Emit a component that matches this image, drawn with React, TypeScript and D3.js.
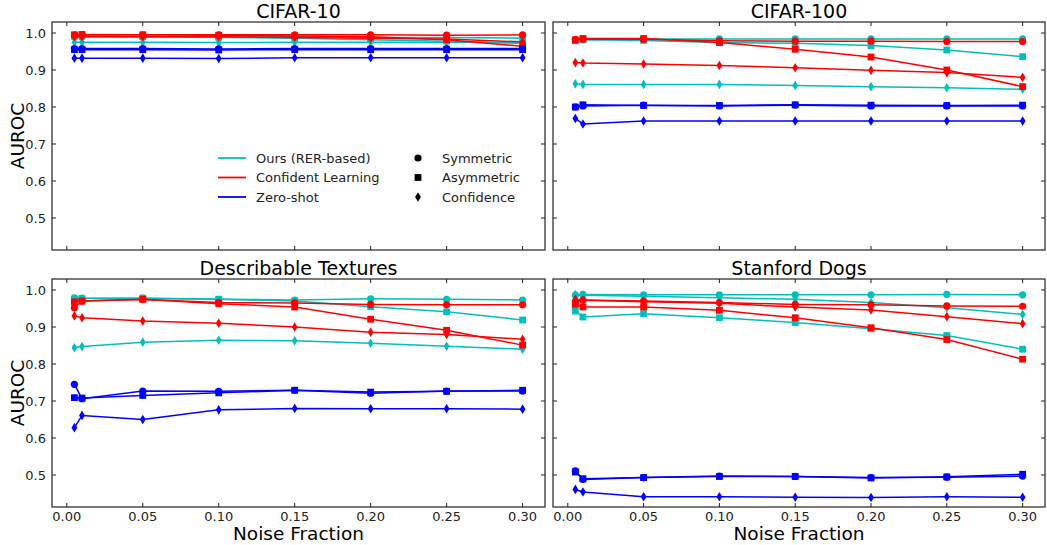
import React, { useEffect, useRef } from 'react';
import * as d3 from 'd3';

// noise fractions on the x axis
const noiseFractions = [0.005, 0.01, 0.05, 0.1, 0.15, 0.2, 0.25, 0.3];
const xTicks = [0, 0.05, 0.1, 0.15, 0.2, 0.25, 0.3];
const yTicks = [0.5, 0.6, 0.7, 0.8, 0.9, 1.0];

const methods = ['Ours (RER-based)', 'Confident Learning', 'Zero-shot'];
const methodColors = ['#00bfbf', '#ff0000', '#0000ff'];
const noiseTypes = ['Symmetric', 'Asymmetric', 'Confidence'];

// CIFAR-10 [method][noiseType]
const cifar10 = [
  [
    [0.99, 0.99, 0.99, 0.99, 0.99, 0.988, 0.988, 0.986],
    [0.992, 0.992, 0.99, 0.988, 0.986, 0.982, 0.978, 0.972],
    [0.975, 0.975, 0.975, 0.974, 0.975, 0.975, 0.975, 0.974],
  ],
  [
    [0.995, 0.995, 0.995, 0.995, 0.995, 0.995, 0.994, 0.995],
    [0.995, 0.996, 0.995, 0.994, 0.992, 0.99, 0.982, 0.964],
    [0.99, 0.99, 0.99, 0.99, 0.988, 0.986, 0.984, 0.976],
  ],
  [
    [0.958, 0.958, 0.958, 0.957, 0.958, 0.958, 0.958, 0.958],
    [0.955, 0.955, 0.955, 0.954, 0.955, 0.955, 0.955, 0.955],
    [0.932, 0.932, 0.932, 0.931, 0.933, 0.933, 0.933, 0.933],
  ],
];

const cifar100 = [
  [
    [0.981, 0.984, 0.984, 0.984, 0.984, 0.984, 0.984, 0.984],
    [0.979, 0.982, 0.98, 0.974, 0.972, 0.966, 0.954, 0.936],
    [0.863, 0.861, 0.861, 0.861, 0.858, 0.855, 0.852, 0.848],
  ],
  [
    [0.983, 0.983, 0.983, 0.979, 0.978, 0.978, 0.977, 0.977],
    [0.981, 0.985, 0.985, 0.974, 0.956, 0.935, 0.9, 0.855],
    [0.92, 0.919, 0.916, 0.912, 0.906, 0.899, 0.893, 0.88],
  ],
  [
    [0.8, 0.803, 0.805, 0.803, 0.805, 0.803, 0.803, 0.803],
    [0.8, 0.806, 0.804, 0.804, 0.806, 0.805, 0.804, 0.805],
    [0.769, 0.754, 0.762, 0.762, 0.762, 0.762, 0.762, 0.762],
  ],
];

const textures = [
  [
    [0.979, 0.978, 0.978, 0.975, 0.973, 0.976, 0.975, 0.973],
    [0.975, 0.977, 0.978, 0.975, 0.97, 0.955, 0.941, 0.919],
    [0.844, 0.847, 0.859, 0.864, 0.863, 0.856, 0.848, 0.84],
  ],
  [
    [0.952, 0.97, 0.974, 0.966, 0.965, 0.961, 0.96, 0.96],
    [0.968, 0.97, 0.975, 0.963, 0.954, 0.921, 0.891, 0.851],
    [0.93, 0.925, 0.916, 0.91, 0.9, 0.886, 0.88, 0.867],
  ],
  [
    [0.745, 0.706, 0.727, 0.726, 0.729, 0.721, 0.727, 0.727],
    [0.709, 0.708, 0.715, 0.722, 0.729, 0.724, 0.726, 0.729],
    [0.628, 0.661, 0.65, 0.676, 0.68, 0.679, 0.679, 0.678],
  ],
];

const dogs = [
  [
    [0.986, 0.988, 0.987, 0.987, 0.987, 0.987, 0.988, 0.987],
    [0.943, 0.927, 0.936, 0.925, 0.912, 0.895, 0.877, 0.84],
    [0.988, 0.986, 0.983, 0.979, 0.975, 0.966, 0.952, 0.934],
  ],
  [
    [0.968, 0.973, 0.97, 0.966, 0.961, 0.96, 0.957, 0.956],
    [0.961, 0.954, 0.954, 0.945, 0.925, 0.898, 0.866, 0.813],
    [0.975, 0.972, 0.968, 0.964, 0.954, 0.946, 0.928, 0.909],
  ],
  [
    [0.511, 0.488, 0.493, 0.497, 0.496, 0.493, 0.494, 0.497],
    [0.508, 0.49, 0.493, 0.496, 0.496, 0.492, 0.495, 0.502],
    [0.461, 0.454, 0.441, 0.441, 0.44, 0.439, 0.441, 0.44],
  ],
];

const panels = [
  { title: 'CIFAR-10', data: cifar10, col: 0, row: 0 },
  { title: 'CIFAR-100', data: cifar100, col: 1, row: 0 },
  { title: 'Describable Textures', data: textures, col: 0, row: 1 },
  { title: 'Stanford Dogs', data: dogs, col: 1, row: 1 },
];

const W = 1047;
const H = 545;
const colX = [[52, 545], [553, 1045]];
const rowY = [[22, 250], [279, 507]];
const FONT = 'DejaVu Sans, sans-serif';

function drawMarker(g: d3.Selection<SVGGElement, unknown, null, undefined>, type: number, x: number, y: number, color: string) {
  if (type === 0) {
    g.append('circle').attr('cx', x).attr('cy', y).attr('r', 3.6).attr('fill', color);
  } else if (type === 1) {
    g.append('rect').attr('x', x - 3.4).attr('y', y - 3.4).attr('width', 6.8).attr('height', 6.8).attr('fill', color);
  } else {
    g.append('path')
      .attr('d', `M${x},${y - 4.8}L${x + 2.9},${y}L${x},${y + 4.8}L${x - 2.9},${y}Z`)
      .attr('fill', color);
  }
}

const App: React.FC = () => {
  const svgRef = useRef<SVGSVGElement>(null);

  useEffect(() => {
    if (!svgRef.current) return;
    const svg = d3.select(svgRef.current);
    svg.selectAll('*').remove();

    panels.forEach(p => {
      const [x0, x1] = colX[p.col];
      const [y0, y1] = rowY[p.row];
      const x = d3.scaleLinear().domain([-0.00975, 0.31475]).range([x0, x1]);
      const y = d3.scaleLinear().domain([0.4135, 1.0297]).range([y1, y0]);
      const g = svg.append('g');

      // ticks, inward on all sides
      xTicks.forEach(t => {
        g.append('line').attr('x1', x(t)).attr('x2', x(t)).attr('y1', y1).attr('y2', y1 - 4)
          .attr('stroke', '#222').attr('stroke-width', 1);
        g.append('line').attr('x1', x(t)).attr('x2', x(t)).attr('y1', y0).attr('y2', y0 + 4)
          .attr('stroke', '#222').attr('stroke-width', 1);
        if (p.row === 1) {
          g.append('text').attr('x', x(t)).attr('y', y1 + 13.5).attr('text-anchor', 'middle')
            .attr('font-family', FONT).attr('font-size', 13).attr('fill', '#222').text(t.toFixed(2));
        }
      });
      yTicks.forEach(t => {
        g.append('line').attr('x1', x0).attr('x2', x0 + 4).attr('y1', y(t)).attr('y2', y(t))
          .attr('stroke', '#222').attr('stroke-width', 1);
        g.append('line').attr('x1', x1).attr('x2', x1 - 4).attr('y1', y(t)).attr('y2', y(t))
          .attr('stroke', '#222').attr('stroke-width', 1);
        if (p.col === 0) {
          g.append('text').attr('x', x0 - 6).attr('y', y(t)).attr('dy', '0.35em').attr('text-anchor', 'end')
            .attr('font-family', FONT).attr('font-size', 13).attr('fill', '#222').text(t.toFixed(1));
        }
      });

      // series
      const line = d3.line<number>().x((_, i) => x(noiseFractions[i])).y(v => y(v));
      p.data.forEach((byType, m) => {
        byType.forEach((vals, k) => {
          g.append('path').attr('d', line(vals)).attr('fill', 'none')
            .attr('stroke', methodColors[m]).attr('stroke-width', 1.5);
          vals.forEach((v, i) => drawMarker(g, k, x(noiseFractions[i]), y(v), methodColors[m]));
        });
      });

      g.append('rect').attr('x', x0).attr('y', y0).attr('width', x1 - x0).attr('height', y1 - y0)
        .attr('fill', 'none').attr('stroke', '#222').attr('stroke-width', 1.2);

      g.append('text').attr('x', (x0 + x1) / 2).attr('y', y0 - 4).attr('text-anchor', 'middle')
        .attr('font-family', FONT).attr('font-size', 19).attr('fill', '#000').text(p.title);

      if (p.col === 0) {
        g.append('text').attr('transform', `translate(24,${(y0 + y1) / 2}) rotate(-90)`)
          .attr('text-anchor', 'middle').attr('font-family', FONT).attr('font-size', 18.5).attr('fill', '#000')
          .text('AUROC');
      }
      if (p.row === 1) {
        g.append('text').attr('x', (x0 + x1) / 2).attr('y', 540).attr('text-anchor', 'middle')
          .attr('font-family', FONT).attr('font-size', 18.5).attr('fill', '#000').text('Noise Fraction');
      }
    });

    // legend in CIFAR-10 panel
    const lg = svg.append('g');
    methods.forEach((name, i) => {
      const ly = 158 + i * 19.5;
      lg.append('line').attr('x1', 218).attr('x2', 246).attr('y1', ly).attr('y2', ly)
        .attr('stroke', methodColors[i]).attr('stroke-width', 1.8);
      lg.append('text').attr('x', 256).attr('y', ly).attr('dy', '0.35em')
        .attr('font-family', FONT).attr('font-size', 13).attr('fill', '#222').text(name);
    });
    noiseTypes.forEach((name, i) => {
      const ly = 158 + i * 19.5;
      drawMarker(lg, i, 418, ly, '#000');
      lg.append('text').attr('x', 442).attr('y', ly).attr('dy', '0.35em')
        .attr('font-family', FONT).attr('font-size', 13).attr('fill', '#222').text(name);
    });
  }, []);

  return (
    <svg ref={svgRef} width={W} height={H}
      style={{ position: 'absolute', left: 0, top: 0, background: '#fff' }} />
  );
};

export default App;
